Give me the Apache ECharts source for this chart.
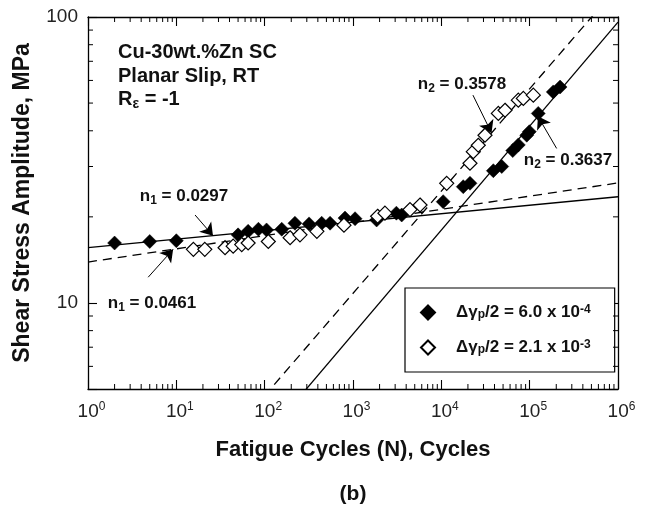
<!DOCTYPE html>
<html>
<head>
<meta charset="utf-8">
<script src="https://cdn.jsdelivr.net/npm/echarts@6/dist/echarts.min.js"></script>
<style>
  html, body { margin: 0; padding: 0; background: #fff; }
  #chart { width: 652px; height: 508px; }
</style>
</head>
<body>
<div id="chart"></div>
<script>
// Fatigue data, Cu-30wt.%Zn single crystal, shear stress amplitude (MPa) vs cycles.
// Δγp/2 = 6.0 x 10^-4 (filled diamonds)
const cyclesLowAmp = [2, 5, 10, 50, 65, 85, 105, 156, 220, 318, 442, 550, 812, 1055, 1850, 3100, 3560,
  10500, 17700, 21100, 38800, 48300, 64300, 74400, 92700, 99100, 125000, 185000, 221000];
const stressLowAmp = [16.2, 16.4, 16.5, 17.3, 17.8, 18.1, 18.0, 18.1, 19.0, 18.9, 19.0, 19.0, 19.8, 19.7, 19.5, 20.6, 20.3,
  22.6, 25.5, 26.2, 29.0, 30.0, 34.1, 35.7, 38.6, 39.7, 46.0, 54.7, 56.9];

// Δγp/2 = 2.1 x 10^-3 (open diamonds)
const cyclesHighAmp = [15.6, 21, 35.6, 44, 55, 65, 110, 194, 251, 390, 790, 1900, 2300, 4420, 5740,
  11500, 21100, 23000, 26200, 31200, 44200, 52600, 74400, 84800, 110000];
const stressHighAmp = [15.4, 15.4, 15.6, 15.8, 16.0, 16.2, 16.4, 16.9, 17.3, 17.8, 18.7, 20.1, 20.6, 21.2, 22.0,
  26.2, 30.8, 33.8, 35.6, 38.6, 46.0, 47.2, 51.2, 51.9, 53.3];

// Power-law fits  tau = C * N^n
const expFlatLow = 0.0297, expFlatHigh = 0.0461, expSteepLow = 0.3637, expSteepHigh = 0.3578;
const coefFlatLow = 15.6, coefFlatHigh = 13.9, coefSteepLow = 0.631, coefSteepHigh = 0.912;

// Axis ranges
const cycleMin = 1, cycleMax = 1e6;
const stressMin = 5, stressMax = 100;

const FONT = '"Liberation Sans", Arial, Helvetica, sans-serif';
const INK = '#111';

const fitLine = (c, n) => [[cycleMin, c], [cycleMax, c * Math.pow(cycleMax, n)]];
const onFit = (c, n, N) => [N, c * Math.pow(N, n)];

// minor tick positions (2..9 within each decade)
const minorCycles = [];
for (let k = 0; k < 6; k++) for (let m = 2; m <= 9; m++) minorCycles.push(m * Math.pow(10, k));
const minorStress = [6, 7, 8, 9, 20, 30, 40, 50, 60, 70, 80, 90];

const isDecade = v => Math.abs(Math.log10(v) - Math.round(Math.log10(v))) < 1e-6;

const chart = echarts.init(document.getElementById('chart'), null, { renderer: 'canvas' });

const axisLineStyle = { color: '#000', width: 1.3 };
const majorTick = { show: true, inside: true, length: 9, lineStyle: { color: '#000', width: 1.1 } };

function xAxisBase(pos) {
  return {
    type: 'log', logBase: 10, min: cycleMin, max: cycleMax, position: pos,
    axisLine: { show: true, onZero: false, lineStyle: axisLineStyle },
    axisTick: majorTick,
    splitLine: { show: false },
    minorTick: { show: false }
  };
}
function yAxisBase(pos) {
  return {
    type: 'log', logBase: 10, min: stressMin, max: stressMax, position: pos,
    axisLine: { show: true, onZero: false, lineStyle: axisLineStyle },
    axisTick: majorTick,
    splitLine: { show: false },
    minorTick: { show: false }
  };
}

function minorTickSeries(axisKind, values) {
  return {
    type: 'custom', silent: true, clip: false, z: 5,
    data: values.map(v => axisKind === 'x' ? [v, 10] : [10, v]),
    renderItem(params, api) {
      const cs = params.coordSys;
      const len = 5;
      const st = { stroke: '#000', lineWidth: 1 };
      const p = api.coord([api.value(0), api.value(1)]);
      if (axisKind === 'x') {
        const x = p[0], yb = cs.y + cs.height, yt = cs.y;
        return { type: 'group', children: [
          { type: 'line', shape: { x1: x, y1: yb, x2: x, y2: yb - len }, style: st },
          { type: 'line', shape: { x1: x, y1: yt, x2: x, y2: yt + len }, style: st }
        ] };
      }
      const y = p[1], xl = cs.x, xr = cs.x + cs.width;
      return { type: 'group', children: [
        { type: 'line', shape: { x1: xl, y1: y, x2: xl + len, y2: y }, style: st },
        { type: 'line', shape: { x1: xr, y1: y, x2: xr - len, y2: y }, style: st }
      ] };
    }
  };
}

function fitSeries(c, n, dashed) {
  return {
    type: 'line', silent: true, showSymbol: false, symbol: 'none', z: 3,
    data: fitLine(c, n),
    lineStyle: { color: '#000', width: 1.3, type: dashed ? [9, 6] : 'solid' },
    clip: true
  };
}

function arrowSeries(tail, tip) {
  return {
    type: 'lines', coordinateSystem: 'cartesian2d', silent: true, z: 6,
    symbol: ['none', 'arrow'], symbolSize: [6, 12],
    lineStyle: { color: '#000', width: 1, opacity: 1 },
    data: [{ coords: [tail, tip] }]
  };
}

const nameLow = 'lowAmp', nameHigh = 'highAmp';
const legendText = {
  lowAmp: 'Δγ{sub|p}/2 = 6.0 x 10{sup|-4}',
  highAmp: 'Δγ{sub|p}/2 = 2.1 x 10{sup|-3}'
};

const boldRich = (size) => ({
  sub: { fontFamily: FONT, fontWeight: 'bold', fontSize: Math.round(size * 0.7), color: INK, verticalAlign: 'bottom', lineHeight: Math.round(size * 0.7) },
  sup: { fontFamily: FONT, fontWeight: 'bold', fontSize: Math.round(size * 0.7), color: INK, verticalAlign: 'top', lineHeight: Math.round(size * 0.7) }
});

function label(x, y, text, size, align) {
  return {
    type: 'text', x, y, silent: true, z: 20,
    style: {
      text, fill: INK, font: 'bold ' + size + 'px ' + FONT,
      fontFamily: FONT, fontWeight: 'bold', fontSize: size,
      align: align || 'center', textAlign: align || 'center',
      verticalAlign: 'middle', textVerticalAlign: 'middle',
      lineHeight: size + 4,
      rich: Object.assign({ b: { fontFamily: FONT, fontWeight: 'bold', fontSize: size, color: INK, lineHeight: size + 4 } }, boldRich(size))
    }
  };
}

const option = {
  animation: false,
  backgroundColor: '#fff',
  grid: { left: 88, right: 34, top: 17, bottom: 119, containLabel: false },
  xAxis: [
    Object.assign(xAxisBase('bottom'), {
      name: 'Fatigue Cycles (N), Cycles', nameLocation: 'middle', nameGap: 50,
      nameTextStyle: { fontFamily: FONT, fontSize: 22, fontWeight: 'bold', color: INK },
      axisLabel: {
        margin: 12,
        formatter: v => isDecade(v) ? '{b|10}{s|' + Math.round(Math.log10(v)) + '}' : '',
        rich: {
          b: { fontFamily: FONT, fontSize: 19, color: '#222', lineHeight: 22, padding: [0, 0, 0, 7] },
          s: { fontFamily: FONT, fontSize: 12, color: '#222', lineHeight: 14, verticalAlign: 'top' }
        }
      }
    }),
    Object.assign(xAxisBase('top'), { axisLabel: { show: false } })
  ],
  yAxis: [
    Object.assign(yAxisBase('left'), {
      name: 'Shear Stress Amplitude, MPa', nameLocation: 'middle', nameGap: 54,
      nameTextStyle: { fontFamily: FONT, fontSize: 23, fontWeight: 'bold', color: INK },
      axisLabel: {
        margin: 10, fontFamily: FONT, fontSize: 19, color: '#222',
        formatter: v => isDecade(v) ? String(Math.round(v)) : ''
      }
    }),
    Object.assign(yAxisBase('right'), { axisLabel: { show: false } })
  ],
  legend: {
    orient: 'vertical', left: 405, top: 288,
    padding: [16, 24, 16, 15],
    itemWidth: 14, itemHeight: 14, itemGap: 18,
    borderColor: '#000', borderWidth: 1.2, backgroundColor: '#fff',
    data: [nameLow, nameHigh],
    formatter: n => legendText[n],
    textStyle: {
      fontFamily: FONT, fontSize: 17, fontWeight: 'bold', color: INK, padding: [0, 0, 0, 16],
      rich: boldRich(17)
    },
    selectedMode: false
  },
  graphic: [
    label(118, 52, 'Cu-30wt.%Zn SC', 20, 'left'),
    label(118, 76, 'Planar Slip, RT', 20, 'left'),
    label(118, 99, '{b|R}{sub|ε}{b| = -1}', 20, 'left'),
    label(184, 196, '{b|n}{sub|1}{b| = 0.0297}', 17),
    label(152, 303, '{b|n}{sub|1}{b| = 0.0461}', 17),
    label(462, 84, '{b|n}{sub|2}{b| = 0.3578}', 17),
    label(568, 160, '{b|n}{sub|2}{b| = 0.3637}', 17),
    label(353, 494, '(b)', 21)
  ],
  series: [
    minorTickSeries('x', minorCycles),
    minorTickSeries('y', minorStress),
    fitSeries(coefFlatLow, expFlatLow, false),
    fitSeries(coefFlatHigh, expFlatHigh, true),
    fitSeries(coefSteepLow, expSteepLow, false),
    fitSeries(coefSteepHigh, expSteepHigh, true),
    arrowSeries([16.3, 20.3], onFit(coefFlatLow, expFlatLow, 26)),
    arrowSeries([4.8, 12.3], onFit(coefFlatHigh, expFlatHigh, 9.2)),
    arrowSeries([22800, 53.3], onFit(coefSteepHigh, expSteepHigh, 37000)),
    arrowSeries([202000, 34.7], onFit(coefSteepLow, expSteepLow, 124000)),
    {
      name: nameLow, type: 'scatter', symbol: 'diamond', symbolSize: 14, z: 10,
      itemStyle: { color: '#000', borderColor: '#000', borderWidth: 0.5, opacity: 1 },
      emphasis: { disabled: true },
      data: cyclesLowAmp.map((n, i) => [n, stressLowAmp[i]])
    },
    {
      name: nameHigh, type: 'scatter', symbol: 'diamond', symbolSize: 14, z: 11,
      itemStyle: { color: '#fff', borderColor: '#000', borderWidth: 1.2, opacity: 1 },
      emphasis: { disabled: true },
      data: cyclesHighAmp.map((n, i) => [n, stressHighAmp[i]])
    }
  ]
};

chart.setOption(option);
</script>
</body>
</html>
